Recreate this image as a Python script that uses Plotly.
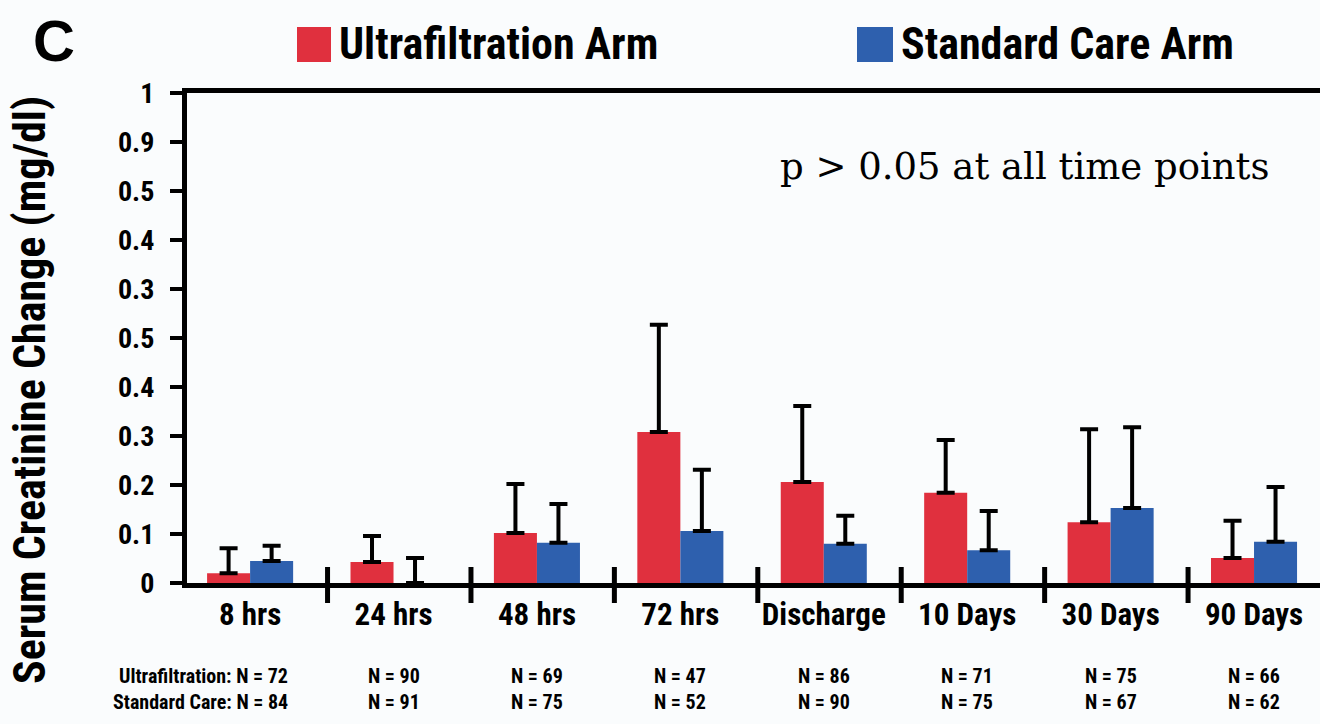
import plotly.graph_objects as go

categories = ["8 hrs", "24 hrs", "48 hrs", "72 hrs", "Discharge", "10 Days", "30 Days", "90 Days"]
uf_change = [0.020, 0.043, 0.102, 0.308, 0.206, 0.184, 0.124, 0.051]
uf_err = [0.051, 0.053, 0.100, 0.219, 0.155, 0.108, 0.190, 0.076]
sc_change = [0.045, 0.000, 0.082, 0.106, 0.080, 0.067, 0.153, 0.084]
sc_err = [0.031, 0.051, 0.079, 0.125, 0.057, 0.080, 0.165, 0.112]
uf_n = [72, 90, 69, 47, 86, 71, 75, 66]
sc_n = [84, 91, 75, 52, 90, 75, 67, 62]
y_tickvals = [0, 0.1, 0.2, 0.3, 0.4, 0.5, 0.6, 0.7, 0.8, 0.9, 1.0]
y_ticktext = ["0", "0.1", "0.2", "0.3", "0.4", "0.5", "0.3", "0.4", "0.5", "0.9", "1"]

RED = "#E0303E"
BLUE = "#2E60AE"
BG = "#FAFCFD"
NARROW = "Roboto Condensed, Liberation Sans Narrow, sans-serif"

W, H = 1320, 724
L, R, T, B = 187, 0, 93, 141
PW, PH = W - L - R, H - T - B


def px_x(px):
    return (px - L) / PW


def px_y(py):
    return (H - B - py) / PH


fig = go.Figure()
fig.add_trace(go.Bar(
    x=categories, y=uf_change, name="Ultrafiltration Arm", marker_color=RED,
    marker_line_width=0,
    error_y=dict(type="data", symmetric=False, array=uf_err, arrayminus=[0] * len(uf_err),
                 color="black", thickness=4, width=9),
))
fig.add_trace(go.Bar(
    x=categories, y=sc_change, name="Standard Care Arm", marker_color=BLUE,
    marker_line_width=0,
    error_y=dict(type="data", symmetric=False, array=sc_err, arrayminus=[0] * len(sc_err),
                 color="black", thickness=4, width=9),
))

shapes = []
# divider ticks between time points
for i in range(len(categories) - 1):
    xc = i + 0.54
    shapes.append(dict(type="line", xref="x", yref="paper", x0=xc, x1=xc,
                       y0=px_y(603), y1=px_y(567), line=dict(color="black", width=5)))
# legend squares
shapes.append(dict(type="rect", xref="paper", yref="paper", x0=px_x(297), x1=px_x(331),
                   y0=px_y(62), y1=px_y(27), fillcolor=RED, line_width=0))
shapes.append(dict(type="rect", xref="paper", yref="paper", x0=px_x(857), x1=px_x(893),
                   y0=px_y(62), y1=px_y(27), fillcolor=BLUE, line_width=0))

annotations = [
    dict(text="<b>Ultrafiltration Arm</b>", xref="paper", yref="paper", x=px_x(337), y=px_y(44),
         xanchor="left", yanchor="middle", showarrow=False,
         font=dict(family=NARROW, size=44, color="black")),
    dict(text="<b>Standard Care Arm</b>", xref="paper", yref="paper", x=px_x(899), y=px_y(44),
         xanchor="left", yanchor="middle", showarrow=False,
         font=dict(family=NARROW, size=44, color="black")),
    dict(text="<b>C</b>", xref="paper", yref="paper", x=px_x(54), y=px_y(40),
         xanchor="center", yanchor="middle", showarrow=False,
         font=dict(family="Liberation Sans, Arial, sans-serif", size=58, color="black")),
    dict(text="p &gt; 0.05 at all time points", xref="paper", yref="paper", x=px_x(1024), y=px_y(166),
         xanchor="center", yanchor="middle", showarrow=False,
         font=dict(family="DejaVu Serif, serif", size=37, color="black")),
    dict(text="<b>Serum Creatinine Change (mg/dl)</b>", xref="paper", yref="paper", x=px_x(30), y=px_y(390),
         xanchor="center", yanchor="middle", textangle=-90, showarrow=False,
         font=dict(family=NARROW, size=44, color="black")),
]
for i, cat in enumerate(categories):
    if i == 0:
        t1 = f"<b>Ultrafiltration: N = {uf_n[i]}</b>"
        t2 = f"<b>Standard Care: N = {sc_n[i]}</b>"
        kw = dict(xanchor="right", xshift=40)
    else:
        t1 = f"<b>N = {uf_n[i]}</b>"
        t2 = f"<b>N = {sc_n[i]}</b>"
        kw = dict(xanchor="center")
    annotations.append(dict(text=t1, xref="x", yref="paper", x=cat, y=px_y(676), yanchor="middle",
                            showarrow=False, font=dict(family=NARROW, size=20, color="black"), **kw))
    annotations.append(dict(text=t2, xref="x", yref="paper", x=cat, y=px_y(702), yanchor="middle",
                            showarrow=False, font=dict(family=NARROW, size=20, color="black"), **kw))

fig.update_layout(
    width=W, height=H, margin=dict(l=L, r=R, t=T, b=B),
    paper_bgcolor=BG, plot_bgcolor=BG,
    barmode="group", bargap=0.4, bargroupgap=0,
    showlegend=False,
    shapes=shapes, annotations=annotations,
    xaxis=dict(range=[-0.44, 7.46], showline=True, linewidth=5, linecolor="black", mirror=True,
               ticks="", showgrid=False, zeroline=False, ticklabelstandoff=0,
               tickfont=dict(family=NARROW, size=31, color="black", weight="bold")),
    yaxis=dict(range=[0, 1], tickvals=y_tickvals, ticktext=y_ticktext, showline=True, linewidth=5,
               linecolor="black", ticks="outside", ticklen=12, tickwidth=4, tickcolor="black",
               showgrid=False, zeroline=False, ticklabelstandoff=10,
               tickfont=dict(family=NARROW, size=28, color="black", weight="bold")),
)

fig.write_html("out.html")
